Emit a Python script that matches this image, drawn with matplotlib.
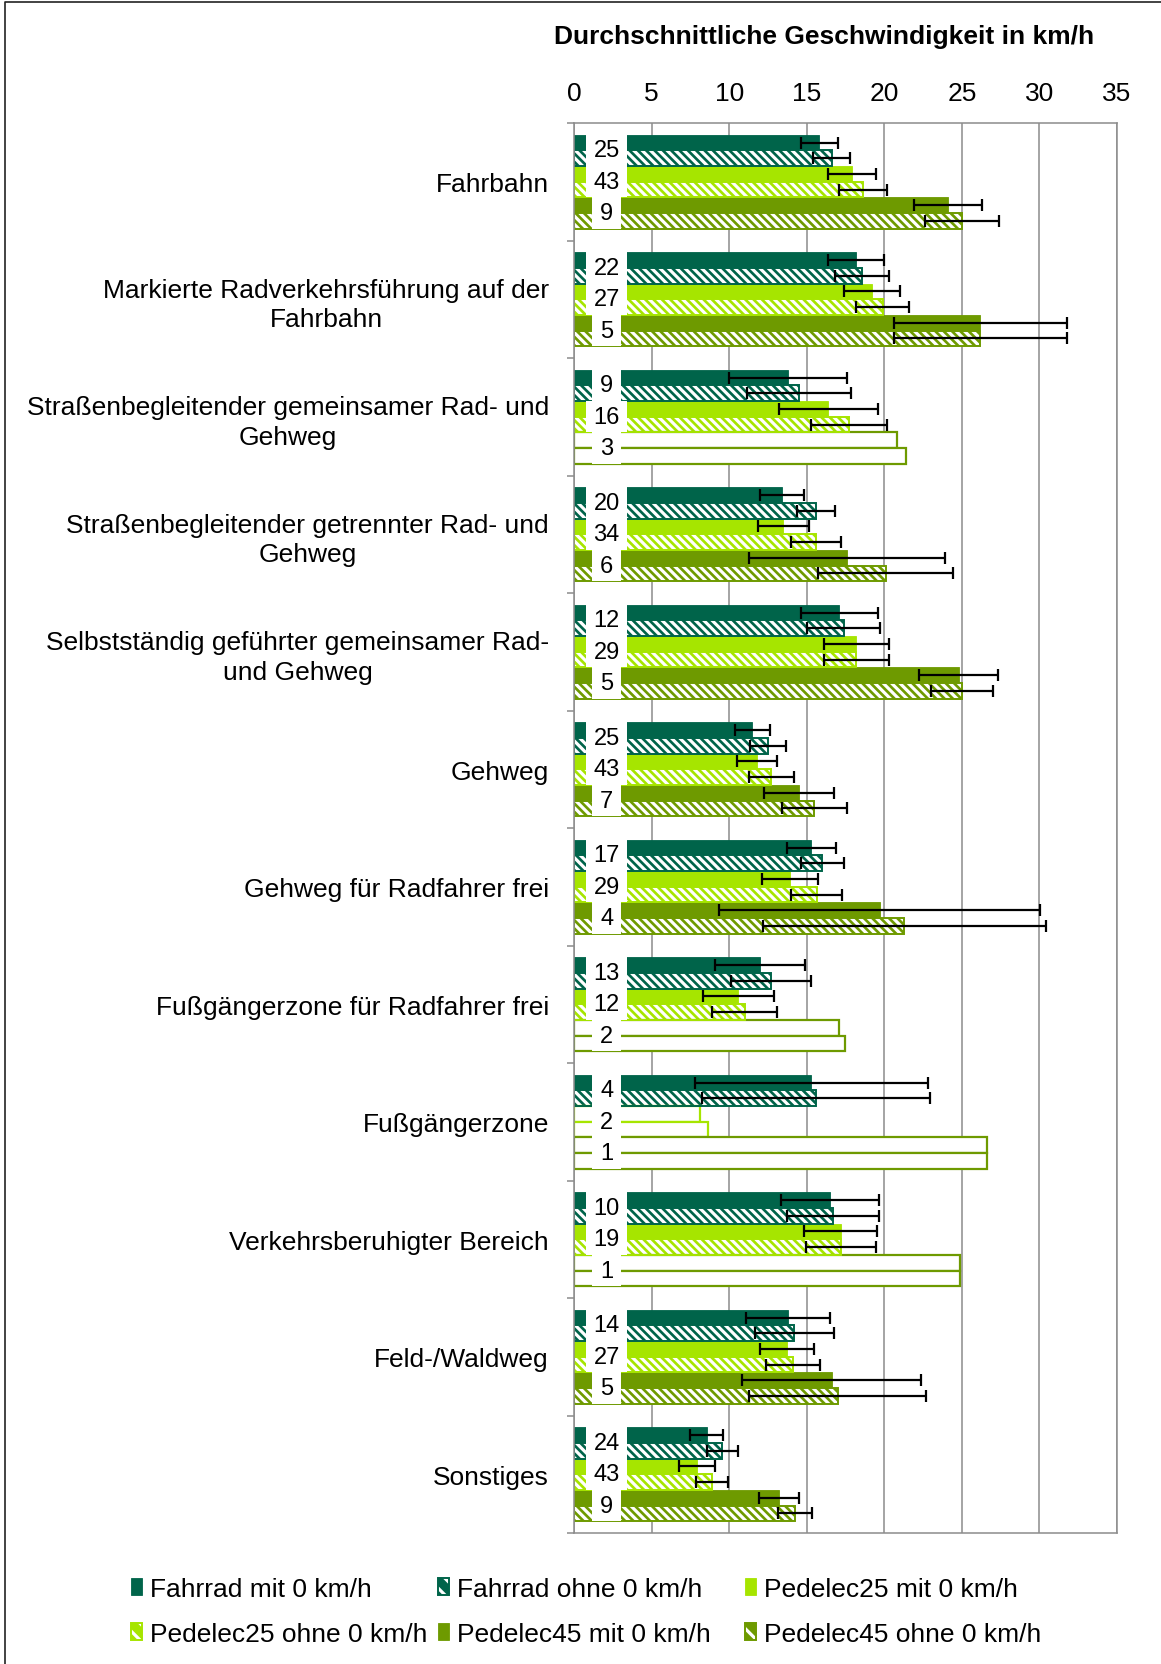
import numpy as np
import matplotlib.pyplot as plt
from matplotlib.patches import Rectangle
from matplotlib.legend_handler import HandlerTuple
from matplotlib.lines import Line2D

plt.rcParams['font.family'] = ['Liberation Sans', 'DejaVu Sans']
plt.rcParams['hatch.linewidth'] = 2.3

categories = [
    'Fahrbahn',
    'Markierte Radverkehrsführung auf der\nFahrbahn',
    'Straßenbegleitender gemeinsamer Rad- und\nGehweg',
    'Straßenbegleitender getrennter Rad- und\nGehweg',
    'Selbstständig geführter gemeinsamer Rad-\nund Gehweg',
    'Gehweg',
    'Gehweg für Radfahrer frei',
    'Fußgängerzone für Radfahrer frei',
    'Fußgängerzone',
    'Verkehrsberuhigter Bereich',
    'Feld-/Waldweg',
    'Sonstiges',
]
series = ['Fahrrad mit 0 km/h', 'Fahrrad ohne 0 km/h',
          'Pedelec25 mit 0 km/h', 'Pedelec25 ohne 0 km/h',
          'Pedelec45 mit 0 km/h', 'Pedelec45 ohne 0 km/h']

# Anzahl Fahrten je Kategorie
n_fahrrad = [25, 22, 9, 20, 12, 25, 17, 13, 4, 10, 14, 24]
n_ped25 = [43, 27, 16, 34, 29, 43, 29, 12, 2, 19, 27, 43]
n_ped45 = [9, 5, 3, 6, 5, 7, 4, 2, 1, 1, 5, 9]

nan = np.nan
fahrrad_mit = [15.8, 18.2, 13.8, 13.4, 17.1, 11.5, 15.3, 12.0, 15.3, 16.5, 13.8, 8.55]
fahrrad_mit_err = [1.2, 1.8, 3.8, 1.4, 2.5, 1.15, 1.6, 2.9, 7.5, 3.15, 2.7, 1.05]
fahrrad_ohne = [16.6, 18.55, 14.5, 15.6, 17.4, 12.5, 16.0, 12.7, 15.6, 16.7, 14.2, 9.55]
fahrrad_ohne_err = [1.2, 1.75, 3.35, 1.25, 2.35, 1.15, 1.4, 2.55, 7.35, 2.95, 2.55, 1.0]
ped25_mit = [17.9, 19.2, 16.4, 13.5, 18.2, 11.8, 13.95, 10.6, 8.1, 17.2, 13.75, 7.95]
ped25_mit_err = [1.55, 1.8, 3.2, 1.65, 2.1, 1.3, 1.8, 2.3, nan, 2.35, 1.75, 1.15]
ped25_ohne = [18.6, 19.9, 17.7, 15.6, 18.2, 12.7, 15.65, 11.0, 8.65, 17.2, 14.1, 8.9]
ped25_ohne_err = [1.55, 1.7, 2.45, 1.6, 2.1, 1.45, 1.65, 2.1, nan, 2.25, 1.75, 1.05]
ped45_mit = [24.1, 26.2, 20.85, 17.6, 24.8, 14.5, 19.7, 17.1, 26.6, 24.85, 16.6, 13.2]
ped45_mit_err = [2.2, 5.6, nan, 6.3, 2.55, 2.25, 10.35, nan, nan, nan, 5.75, 1.3]
ped45_ohne = [25.0, 26.2, 21.4, 20.1, 25.0, 15.5, 21.3, 17.45, 26.6, 24.85, 17.0, 14.25]
ped45_ohne_err = [2.4, 5.6, nan, 4.35, 2.0, 2.1, 9.1, nan, nan, nan, 5.7, 1.1]

means = [fahrrad_mit, fahrrad_ohne, ped25_mit, ped25_ohne, ped45_mit, ped45_ohne]
errs = [fahrrad_mit_err, fahrrad_ohne_err, ped25_mit_err, ped25_ohne_err, ped45_mit_err, ped45_ohne_err]
counts = [n_fahrrad, n_fahrrad, n_ped25, n_ped25, n_ped45, n_ped45]

colors = ['#00644A', '#00644A', '#A6E500', '#A6E500', '#6E9A00', '#6E9A00']
hatched = [False, True, False, True, False, True]
hatch = '\\\\\\\\'
grid_col = '#8C8C8C'

W, H = 1161, 1665
fig = plt.figure(figsize=(W / 100, H / 100), dpi=100)
ax = fig.add_axes([574 / W, 1 - 1534 / H, (1117 - 574) / W, (1534 - 124) / H])

y = np.arange(len(categories))
h = 0.8 / 6
handles = []
for i in range(6):
    pos = y - 0.4 + h * (i + 0.5)
    vals = np.array(means[i])
    err = np.array(errs[i])
    hollow = np.array(counts[i]) < 4
    full = ~hollow
    c = colors[i]
    if hatched[i]:
        ax.barh(pos[full], vals[full], height=h, color=c, edgecolor='white',
                hatch=hatch, linewidth=0, zorder=2)
        ax.barh(pos[full], vals[full], height=h, facecolor='none', edgecolor=c,
                linewidth=1.4, zorder=2.1)
        handles.append((Rectangle((0, 0), 1, 1, facecolor=c, edgecolor='white', hatch='\\\\', lw=0),
                        Rectangle((0, 0), 1, 1, facecolor='none', edgecolor=c, lw=1.4)))
    else:
        ax.barh(pos[full], vals[full], height=h, color=c, edgecolor=c,
                linewidth=0.6, zorder=2)
        handles.append(Rectangle((0, 0), 1, 1, facecolor=c, edgecolor=c, lw=0.6))
    # kleine Stichprobe: nur Umriss, ohne Fehlerbalken
    ax.barh(pos[hollow], vals[hollow], height=h, facecolor='white', edgecolor=c,
            linewidth=1.6, zorder=2)
    ax.errorbar(vals[full], pos[full], xerr=err[full], fmt='none', ecolor='black',
                elinewidth=1.6, capsize=4.5, capthick=1.6, zorder=5)

# Anzahl-Beschriftungen in weißen Kästchen
lab_x = 2.1
for p in range(3):
    yc = y - 0.4 + h * (2 * p + 1)
    for k, cat in enumerate(categories):
        txt = str(counts[2 * p][k])
        w = 1.14 + 0.73 * len(txt)
        ax.add_patch(Rectangle((lab_x - w / 2, yc[k] - h), w, 2 * h,
                               facecolor='white', edgecolor='none', zorder=3))
        ax.text(lab_x, yc[k], txt, ha='center', va='center', fontsize=17, zorder=4)

ax.set_xlim(0, 35)
ax.set_xticks(range(0, 36, 5))
ax.xaxis.tick_top()
ax.tick_params(axis='x', length=0, pad=13, labelsize=19)
ax.grid(axis='x', color=grid_col, linewidth=1.1)
ax.set_axisbelow(True)
for s in ax.spines.values():
    s.set_color(grid_col)
    s.set_linewidth(1.1)

ax.set_ylim(len(categories) - 0.5, -0.5)
ax.set_yticks(y)
ax.set_yticklabels(categories, fontsize=19, multialignment='center', linespacing=1.3)
ax.tick_params(axis='y', which='major', length=0, pad=18)
ax.set_yticks(np.arange(-0.5, len(categories)), minor=True)
ax.tick_params(axis='y', which='minor', length=5, color=grid_col, width=1.1)

fig.text(824 / W, 1 - 37 / H, 'Durchschnittliche Geschwindigkeit in km/h',
         ha='center', va='center', fontsize=19, fontweight='bold')

for k, x in enumerate([0.1125, 0.377, 0.642]):
    fig.legend([handles[k], handles[k + 3]], [series[k], series[k + 3]],
               loc='upper left', bbox_to_anchor=(x, 0.0525), frameon=False,
               fontsize=19, handlelength=0.42, handleheight=0.6, handletextpad=0.3,
               labelspacing=0.8, borderpad=0, borderaxespad=0,
               handler_map={tuple: HandlerTuple(ndivide=1)})

fig.add_artist(Line2D([5 / W, 5 / W, 1], [0, 1 - 3 / H, 1 - 3 / H],
                      transform=fig.transFigure, color='#222222', lw=1.2))

fig.savefig('out.png', dpi=100)
